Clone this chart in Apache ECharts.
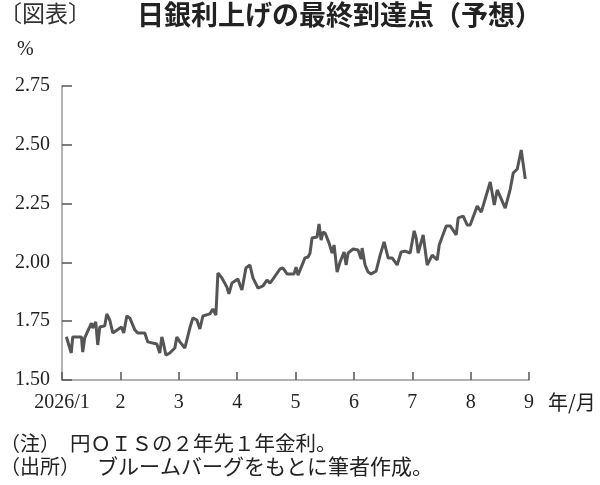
<!DOCTYPE html>
<html>
<head>
<meta charset="utf-8">
<script src="https://cdn.jsdelivr.net/npm/echarts@6/dist/echarts.min.js"></script>
<style>
  html, body { margin: 0; padding: 0; background: #fff; }
  #main { width: 600px; height: 485px; }
</style>
</head>
<body>
<div id="main"></div>
<script>
// 月位置（1 = 2026/1 月初、9 = 9 月初）
var monthPos = [
  1.075, 1.158, 1.184, 1.333, 1.355, 1.389, 1.504, 1.527, 1.578, 1.612,
  1.647, 1.732, 1.767, 1.818, 1.870, 2.019, 2.058, 2.110, 2.161, 2.247,
  2.298, 2.418, 2.470, 2.624, 2.675, 2.710, 2.744, 2.779, 2.847, 2.933,
  2.967, 3.019, 3.104, 3.190, 3.242, 3.310, 3.362, 3.413, 3.533, 3.585,
  3.636, 3.671, 3.739, 3.825, 3.859, 3.911, 4.014, 4.048, 4.082, 4.151,
  4.219, 4.271, 4.357, 4.443, 4.511, 4.563, 4.614, 4.734, 4.786, 4.855,
  4.975, 5.009, 5.043, 5.163, 5.215, 5.249, 5.283, 5.369, 5.403, 5.438,
  5.472, 5.507, 5.575, 5.627, 5.661, 5.713, 5.764, 5.833, 5.867, 5.901,
  5.987, 6.072, 6.124, 6.141, 6.192, 6.244, 6.295, 6.381, 6.450, 6.518,
  6.587, 6.655, 6.741, 6.810, 6.878, 6.964, 7.033, 7.067, 7.101, 7.187,
  7.256, 7.342, 7.427, 7.462, 7.582, 7.650, 7.753, 7.787, 7.873, 7.941,
  7.993, 8.113, 8.182, 8.336, 8.405, 8.456, 8.593, 8.679, 8.730, 8.799,
  8.867, 8.936
];
// 円OISの2年先1年金利（%）
var oisRate = [
  1.684, 1.615, 1.683, 1.683, 1.619, 1.679, 1.742, 1.721, 1.747, 1.649,
  1.725, 1.730, 1.781, 1.755, 1.700, 1.725, 1.700, 1.772, 1.764, 1.713,
  1.700, 1.700, 1.662, 1.653, 1.615, 1.683, 1.649, 1.606, 1.615, 1.636,
  1.683, 1.662, 1.636, 1.721, 1.764, 1.755, 1.717, 1.772, 1.781, 1.802,
  1.776, 1.955, 1.934, 1.895, 1.866, 1.912, 1.929, 1.904, 1.883, 1.976,
  1.989, 1.934, 1.891, 1.900, 1.925, 1.912, 1.929, 1.972, 1.976, 1.951,
  1.951, 1.980, 1.946, 2.019, 2.023, 2.040, 2.104, 2.108, 2.163, 2.095,
  2.129, 2.125, 2.082, 2.040, 2.074, 1.959, 2.002, 2.044, 1.989, 2.040,
  2.057, 2.053, 2.014, 2.061, 1.989, 1.959, 1.951, 1.963, 2.031, 2.087,
  2.019, 2.019, 1.989, 2.044, 2.048, 2.040, 2.134, 2.104, 2.040, 2.117,
  1.989, 2.031, 2.010, 2.074, 2.155, 2.155, 2.117, 2.189, 2.197, 2.159,
  2.159, 2.240, 2.214, 2.342, 2.244, 2.308, 2.231, 2.312, 2.380, 2.397,
  2.478, 2.355
];
var yTicks = [1.50, 1.75, 2.00, 2.25, 2.50, 2.75];
var monthLabels = ['2026/1', '2', '3', '4', '5', '6', '7', '8', '9'];

var seriesData = [];
for (var i = 0; i < monthPos.length; i++) {
  seriesData.push([monthPos[i], oisRate[i]]);
}

var serif = '"Liberation Serif", "DejaVu Serif", "Noto Sans CJK JP", serif';
var gothic = '"Noto Sans CJK JP", sans-serif';

var myChart = echarts.init(document.getElementById('main'));
myChart.setOption({
  animation: false,
  grid: {left: 62, right: 71, top: 86, bottom: 105},
  xAxis: {
    type: 'value',
    min: 1,
    max: 9,
    interval: 1,
    name: '年/月',
    nameLocation: 'end',
    nameGap: 19,
    nameTextStyle: {fontFamily: gothic, fontSize: 20, color: '#222', verticalAlign: 'top', padding: [12, 0, 0, 0]},
    axisLine: {lineStyle: {color: '#999', width: 1.5}},
    axisTick: {inside: true, length: 8, lineStyle: {color: '#555', width: 1.5}},
    axisLabel: {
      margin: 13,
      fontFamily: serif,
      fontSize: 20,
      color: '#222',
      formatter: function (v) { return monthLabels[v - 1]; }
    },
    splitLine: {show: false}
  },
  yAxis: {
    type: 'value',
    min: yTicks[0],
    max: yTicks[yTicks.length - 1],
    interval: 0.25,
    axisLine: {show: true, lineStyle: {color: '#999', width: 1.5}},
    axisTick: {show: true, inside: true, length: 10, lineStyle: {color: '#555', width: 1.5}},
    axisLabel: {
      margin: 12,
      fontFamily: serif,
      fontSize: 20,
      color: '#222',
      formatter: function (v) { return v.toFixed(2); }
    },
    splitLine: {show: false}
  },
  series: [{
    type: 'line',
    data: seriesData,
    showSymbol: false,
    lineStyle: {color: '#555', width: 3},
    itemStyle: {color: '#555'}
  }],
  graphic: [
    {type: 'text', left: -1, top: 2, style: {text: '〔図表〕', font: '23px ' + gothic, fill: '#333'}},
    {type: 'text', left: 137, top: 1, style: {text: '日銀利上げの最終到達点（予想）', font: 'bold 27px ' + gothic, fill: '#222'}},
    {type: 'text', left: 17, top: 40, style: {text: '%', font: '20px ' + serif, fill: '#222'}},
    {type: 'text', left: 0, top: 433, style: {text: '（注）', font: '20px ' + gothic, fill: '#222'}},
    {type: 'text', left: 70, top: 433, style: {text: '円ＯＩＳの２年先１年金利。', font: '20.5px ' + gothic, fill: '#222'}},
    {type: 'text', left: 0, top: 456, style: {text: '（出所）', font: '20px ' + gothic, fill: '#222'}},
    {type: 'text', left: 97, top: 456, style: {text: 'ブルームバーグをもとに筆者作成。', font: '21px ' + gothic, fill: '#222'}}
  ]
});
</script>
</body>
</html>
